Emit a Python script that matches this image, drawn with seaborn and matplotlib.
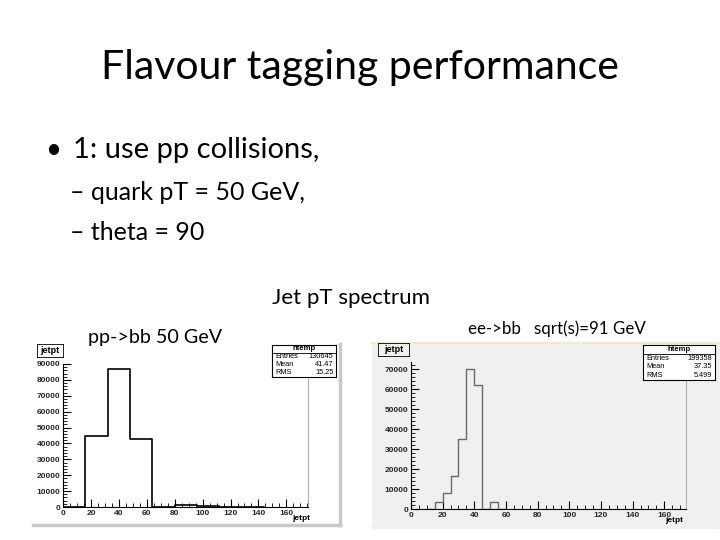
import numpy as np
import pandas as pd
import matplotlib
matplotlib.use("Agg")
from matplotlib import pyplot as plt
from matplotlib.ticker import MultipleLocator
import seaborn as sns

# Slide text
title_text = "Flavour tagging performance"
bullet_text = "1: use pp collisions,"
sub_bullets = ["quark pT = 50 GeV,", "theta = 90"]
spectrum_title = "Jet pT spectrum"
pp_label = "pp->bb 50 GeV"
ee_label = "ee->bb   sqrt(s)=91 GeV"

# pp->bb 50 GeV jet pT histogram (bin edges in GeV, counts per bin)
pp_edges = [0, 16, 32, 48, 64, 80, 96, 112, 128, 144]
pp_counts = [0, 45000, 86600, 43100, 0, 1500, 600, 200, 0]
pp_stats = [("Entries", "130645"), ("Mean", "41.47"), ("RMS", "15.25")]

# ee->bb sqrt(s)=91 GeV jet pT histogram
ee_edges = [10, 15, 20, 25, 30, 35, 40, 45, 50, 55, 60]
ee_counts = [0, 3300, 8000, 16700, 34900, 70000, 62000, 0, 3500, 0]
ee_stats = [("Entries", "199358"), ("Mean", "37.35"), ("RMS", "5.499")]

W, H = 720, 540
sns.set_theme(style="white")
plt.rcParams["font.family"] = ["Lato", "DejaVu Sans"]
plt.rcParams["text.color"] = "black"

fig = plt.figure(figsize=(W / 100, H / 100), dpi=100)
fig.patch.set_facecolor("white")


def px_axes(x0, y0, x1, y1, **kw):
    # axes from pixel box (top-left origin)
    return fig.add_axes([x0 / W, 1 - y1 / H, (x1 - x0) / W, (y1 - y0) / H], **kw)


def fx(x):
    return x / W


def fy(y):
    return 1 - y / H


# Slide texts
fig.text(fx(360), fy(68), title_text, ha="center", va="center", fontsize=29.5)
fig.text(fx(45), fy(150), "\u2022", ha="left", va="center", fontsize=20)
fig.text(fx(73), fy(150), bullet_text, ha="left", va="center", fontsize=21)
for i, s in enumerate(sub_bullets):
    fig.text(fx(70), fy(192 + 40 * i), "\u2013 " + s, ha="left", va="center", fontsize=18)
fig.text(fx(351), fy(298), spectrum_title, ha="center", va="center", fontsize=16)
fig.text(fx(88), fy(338), pp_label, ha="left", va="center", fontsize=14.2)
fig.text(fx(468), fy(329), ee_label, ha="left", va="center", fontsize=12.2)


def draw_panel(panel_box, ax_box, edges, counts, xmax, ymax, color, bg, lw,
               stats, stat_box, name_box, xlab_pos, edge_col):
    # panel background
    pan = px_axes(*panel_box)
    pan.set_facecolor(bg)
    pan.set_xticks([])
    pan.set_yticks([])
    for s in ["left", "top"]:
        pan.spines[s].set_visible(False)
    for s in ["right", "bottom"]:
        pan.spines[s].set_color(edge_col)
        pan.spines[s].set_linewidth(2.5)
    if bg != "white":
        pan.spines["top"].set_visible(True)
        pan.spines["top"].set_color("#f5edc0")
        pan.spines["top"].set_linewidth(1.5)

    ax = px_axes(*ax_box)
    ax.patch.set_alpha(0)
    centers = [(a + b) / 2 for a, b in zip(edges[:-1], edges[1:])]
    df = pd.DataFrame({"jetpt": centers, "n": counts})
    sns.histplot(data=df, x="jetpt", weights="n", bins=edges, element="step",
                 fill=False, color=color, linewidth=lw, ax=ax)
    ax.set_xlim(0, xmax)
    ax.set_ylim(0, ymax)
    ax.set_xlabel("")
    ax.set_ylabel("")
    ax.xaxis.set_major_locator(MultipleLocator(20))
    ax.xaxis.set_minor_locator(MultipleLocator(5))
    ax.yaxis.set_major_locator(MultipleLocator(10000))
    ax.yaxis.set_minor_locator(MultipleLocator(2000))
    ax.tick_params(axis="both", which="major", direction="in", length=6, width=0.8,
                   labelsize=6, pad=2, color="black", bottom=True, left=True)
    ax.tick_params(axis="both", which="minor", direction="in", length=3, width=0.6,
                   color="black", bottom=True, left=True)
    for lab in ax.get_xticklabels() + ax.get_yticklabels():
        lab.set_fontweight("bold")
        lab.set_family("Liberation Sans")
    ax.spines["top"].set_visible(False)
    ax.spines["right"].set_color("#b0b0b0")
    ax.spines["left"].set_color("black")
    ax.spines["bottom"].set_color("black")
    for s in ax.spines.values():
        s.set_linewidth(0.8)
    fig.text(fx(xlab_pos[0]), fy(xlab_pos[1]), "jetpt", fontsize=6, fontweight="bold",
             family="Liberation Sans", ha="left", va="center")

    # stats box
    sb = px_axes(*stat_box)
    sb.set_facecolor("white")
    sb.set_xticks([])
    sb.set_yticks([])
    sb.set_xlim(0, 1)
    sb.set_ylim(0, 4)
    for s in sb.spines.values():
        s.set_color("black")
        s.set_linewidth(0.8)
    sb.text(0.5, 3.5, "htemp", ha="center", va="center", fontsize=5.5,
            fontweight="bold", family="Liberation Sans")
    sb.axhline(3.0, color="black", lw=0.6)
    for i, (k, v) in enumerate(stats):
        y = 2.5 - i
        sb.text(0.05, y, k, ha="left", va="center", fontsize=5.3, family="Liberation Sans")
        sb.text(0.96, y, v, ha="right", va="center", fontsize=5.3, family="Liberation Sans")

    # histogram name box
    nb = px_axes(*name_box)
    nb.set_facecolor(bg)
    nb.set_xticks([])
    nb.set_yticks([])
    for s in nb.spines.values():
        s.set_color("black")
        s.set_linewidth(0.6)
    nb.text(0.5, 0.5, "jetpt", ha="center", va="center", fontsize=6.5,
            fontweight="bold", family="Liberation Sans", transform=nb.transAxes)


draw_panel((33, 344, 340, 525), (63, 364, 308, 507), pp_edges, pp_counts, 175.5, 90000,
           "black", "white", 1.2, pp_stats, (272, 345, 336, 377), (37, 344, 63, 357),
           (292, 518), "#c8c8c8")
draw_panel((372, 343, 720, 527), (411, 362, 686, 509), ee_edges, ee_counts, 173.7, 73500,
           "#6a6a6a", "#f0f0f0", 1.0, ee_stats, (643, 345, 715, 380), (378, 343, 409, 356),
           (665, 521), "#f0f0f0")

fig.savefig("out.png", dpi=100, facecolor="white")
